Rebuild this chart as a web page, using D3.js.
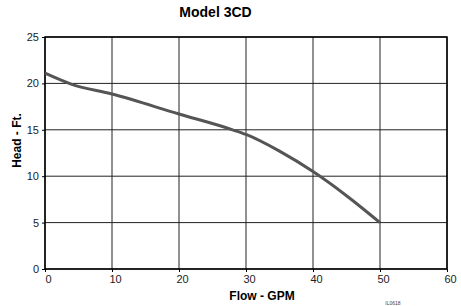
<!DOCTYPE html>
<html><head><meta charset="utf-8">
<script src="https://cdn.jsdelivr.net/npm/d3@7"></script>
<style>body{margin:0;background:#fff}text{font-family:"Liberation Sans",Arial,sans-serif}</style>
</head><body><svg id="c" width="461" height="306"></svg>
<script>
const flow = [0, 4, 10, 20, 28, 30, 35, 40, 45, 50];
const head = [21.1, 19.9, 18.85, 16.7, 15.0, 14.5, 12.7, 10.5, 7.9, 5.0];
const xTicks = [0, 10, 20, 30, 40, 50, 60];
const yTicks = [0, 5, 10, 15, 20, 25];

const svg = d3.select("#c");
const x = d3.scaleLinear().domain([0, 60]).range([45, 447]);
const y = d3.scaleLinear().domain([0, 25]).range([269, 37]);

const grid = svg.append("g");
grid.selectAll(".v").data(xTicks).join("line")
  .attr("x1", d => x(d)).attr("x2", d => x(d)).attr("y1", y(25)).attr("y2", y(0))
  .attr("stroke", "#222").attr("stroke-width", 1);
grid.selectAll(".h").data(yTicks).join("line")
  .attr("y1", d => y(d)).attr("y2", d => y(d)).attr("x1", x(0)).attr("x2", x(60))
  .attr("stroke", "#222").attr("stroke-width", 1);

svg.append("rect").attr("x", x(0)).attr("y", y(25)).attr("width", x(60) - x(0)).attr("height", y(0) - y(25))
  .attr("fill", "none").attr("stroke", "#000").attr("stroke-width", 1.5);

const xAxis = svg.append("g").attr("transform", `translate(0,${y(0)})`)
  .call(d3.axisBottom(x).tickValues(xTicks).tickSize(3).tickPadding(3));
const yAxis = svg.append("g").attr("transform", `translate(${x(0)},0)`)
  .call(d3.axisLeft(y).tickValues(yTicks).tickSize(3).tickPadding(3));
[xAxis, yAxis].forEach(a => {
  a.select(".domain").remove();
  a.selectAll("text").attr("font-size", 11).attr("fill", "#222").attr("font-family", '"Liberation Sans",Arial,sans-serif');
  a.selectAll("line").attr("stroke", "#000");
});
xAxis.selectAll("text").attr("dx", 3);

const line = d3.line().x((d, i) => x(flow[i])).y(d => y(d)).curve(d3.curveMonotoneX);
svg.append("path").datum(head).attr("d", line)
  .attr("fill", "none").attr("stroke", "#555").attr("stroke-width", 3).attr("stroke-linecap", "butt");

svg.append("text").attr("x", 215.5).attr("y", 17).attr("text-anchor", "middle")
  .attr("font-size", 14).attr("font-weight", "bold").text("Model 3CD");
svg.append("text").attr("x", 262).attr("y", 300).attr("text-anchor", "middle")
  .attr("font-size", 12).attr("font-weight", "bold").text("Flow - GPM");
svg.append("text").attr("transform", "translate(20.5,140.5) rotate(-90)").attr("text-anchor", "middle")
  .attr("font-size", 12).attr("font-weight", "bold").text("Head - Ft.");
svg.append("text").attr("x", 393).attr("y", 305).attr("text-anchor", "middle")
  .attr("font-size", 5).attr("fill", "#444").text("IL0618");
</script></body></html>
